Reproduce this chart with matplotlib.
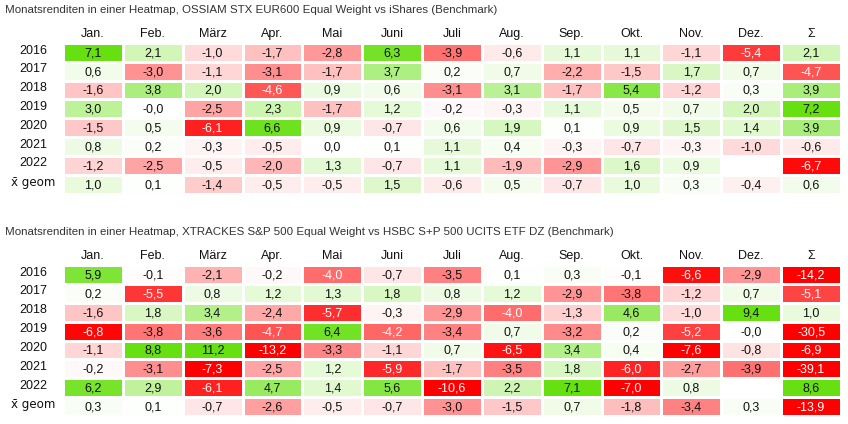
""" Monatsrenditen Heatmaps """
import numpy as np
import matplotlib
matplotlib.use('Agg')
import matplotlib.pyplot as plt
from matplotlib.colors import LinearSegmentedColormap, Normalize

plt.rcParams['font.family'] = ['Liberation Sans', 'DejaVu Sans']

months = ['Jan.', 'Feb.', 'März', 'Apr.', 'Mai', 'Juni', 'Juli', 'Aug.', 'Sep.', 'Okt.', 'Nov.', 'Dez.', 'Σ']
rows = ['2016', '2017', '2018', '2019', '2020', '2021', '2022', 'x\u0304 geom']

title_top = 'Monatsrenditen in einer Heatmap, OSSIAM STX EUR600 Equal Weight vs iShares (Benchmark)'
title_bottom = 'Monatsrenditen in einer Heatmap, XTRACKES S&P 500 Equal Weight vs HSBC S+P 500 UCITS ETF DZ (Benchmark)'

# difference in monthly returns (%), last column = year total
ossiam = [
    [7.1, 2.1, -1.0, -1.7, -2.8, 6.3, -3.9, -0.6, 1.1, 1.1, -1.1, -5.4, 2.1],
    [0.6, -3.0, -1.1, -3.1, -1.7, 3.7, 0.2, 0.7, -2.2, -1.5, 1.7, 0.7, -4.7],
    [-1.6, 3.8, 2.0, -4.6, 0.9, 0.6, -3.1, 3.1, -1.7, 5.4, -1.2, 0.3, 3.9],
    [3.0, -0.0, -2.5, 2.3, -1.7, 1.2, -0.2, -0.3, 1.1, 0.5, 0.7, 2.0, 7.2],
    [-1.5, 0.5, -6.1, 6.6, 0.9, -0.7, 0.6, 1.9, 0.1, 0.9, 1.5, 1.4, 3.9],
    [0.8, 0.2, -0.3, -0.5, 0.0, 0.1, 1.1, 0.4, -0.3, -0.7, -0.3, -1.0, -0.6],
    [-1.2, -2.5, -0.5, -2.0, 1.3, -0.7, 1.1, -1.9, -2.9, 1.6, 0.9, np.nan, -6.7],
    [1.0, 0.1, -1.4, -0.5, -0.5, 1.5, -0.6, 0.5, -0.7, 1.0, 0.3, -0.4, 0.6],
]
xtrackers = [
    [5.9, -0.1, -2.1, -0.2, -4.0, -0.7, -3.5, 0.1, 0.3, -0.1, -6.6, -2.9, -14.2],
    [0.2, -5.5, 0.8, 1.2, 1.3, 1.8, 0.8, 1.2, -2.9, -3.8, -1.2, 0.7, -5.1],
    [-1.6, 1.8, 3.4, -2.4, -5.7, -0.3, -2.9, -4.0, -1.3, 4.6, -1.0, 9.4, 1.0],
    [-6.8, -3.8, -3.6, -4.7, 6.4, -4.2, -3.4, 0.7, -3.2, 0.2, -5.2, -0.0, -30.5],
    [-1.1, 8.8, 11.2, -13.2, -3.3, -1.1, 0.7, -6.5, 3.4, 0.4, -7.6, -0.8, -6.9],
    [-0.2, -3.1, -7.3, -2.5, 1.2, -5.9, -1.7, -3.5, 1.8, -6.0, -2.7, -3.9, -39.1],
    [6.2, 2.9, -6.1, 4.7, 1.4, 5.6, -10.6, 2.2, 7.1, -7.0, 0.8, np.nan, 8.6],
    [0.3, 0.1, -0.7, -2.6, -0.5, -0.7, -3.0, -1.5, 0.7, -1.8, -3.4, 0.3, -13.9],
]

cmap = LinearSegmentedColormap.from_list('rg', ['#ff0000', '#ffffff', '#66e011'])
cmap.set_bad('white')
norm = Normalize(-7, 7, clip=True)

W, H = 848, 424
fig = plt.figure(figsize=(W / 100, H / 100), dpi=100)
fig.patch.set_facecolor('white')


def heatmap(rect, data, title, title_y):
    ax = fig.add_axes(rect)
    data = np.array(data, dtype=float)
    ax.pcolormesh(np.ma.masked_invalid(data), cmap=cmap, norm=norm,
                  edgecolors='white', linewidth=1.0)
    ax.set_xlim(0, data.shape[1])
    ax.set_ylim(data.shape[0], 0)
    ax.axis('off')
    for i in range(data.shape[0]):
        for j in range(data.shape[1]):
            v = data[i, j]
            if np.isnan(v):
                continue
            txt = f'{v:.1f}'.replace('.', ',')
            col = 'white' if v <= -3.95 else '#111111'
            ax.text(j + 0.5, i + 0.55, txt, ha='center', va='center', fontsize=9, color=col)
    for j, m in enumerate(months):
        ax.text(j + 0.5, -0.5, m, ha='center', va='center', fontsize=9, color='#111111', clip_on=False)
    for i, r in enumerate(rows):
        # the combining macron only sits right in DejaVu
        fam = 'DejaVu Sans' if 'geom' in r else 'Liberation Sans'
        ax.text(-0.5, i + 0.4, r, ha='center', va='center', fontsize=8.6 if fam == 'DejaVu Sans' else 9,
                family=fam, color='#111111', clip_on=False)
    fig.text(5 / W, 1 - title_y / H, title, ha='left', va='center', fontsize=8.25, color='#333333')
    return ax


heatmap([63 / W, 1 - 193.5 / H, 778 / W, 150.5 / H], ossiam, title_top, 10)
heatmap([63 / W, 1 - 416 / H, 778 / W, 151 / H], xtrackers, title_bottom, 232)

fig.savefig('out.png', dpi=100)
